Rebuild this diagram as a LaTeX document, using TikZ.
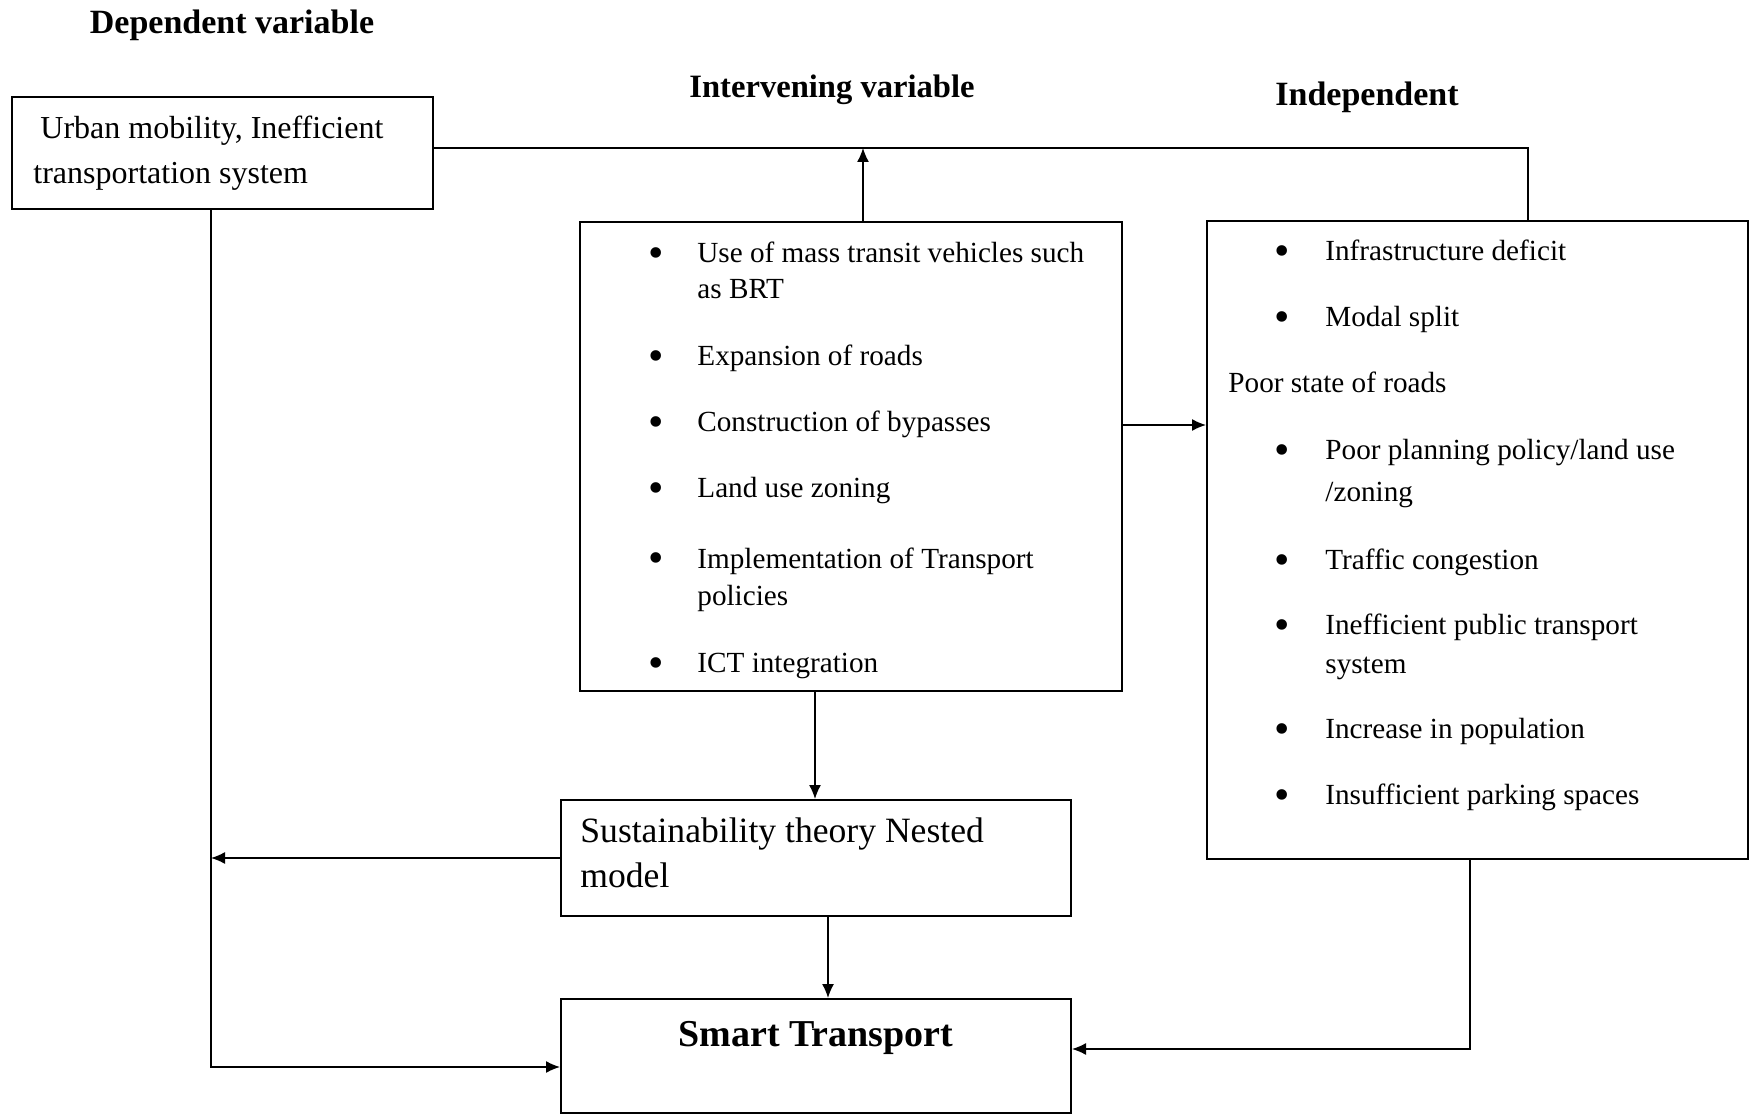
\documentclass[tikz,border=0pt]{standalone}
\usepackage{fontspec}
\setmainfont{Liberation Serif}
\usetikzlibrary{arrows.meta,fit}
\begin{document}
\begin{tikzpicture}[x=0.5pt,y=-0.5pt,
  box/.style={draw, line width=1pt, inner sep=0pt},
  conn/.style={line width=0.7pt},
  arr/.style={conn, -{Latex[length=7pt,width=6pt]}},
  txt/.style={inner sep=0pt, anchor=mid west, font=\fontsize{14.6}{17}\selectfont},
  bul/.style={inner sep=0pt, anchor=center, font=\fontsize{22}{24}\selectfont},
  ttl/.style={inner sep=0pt, anchor=mid, font=\fontsize{17}{20}\selectfont\bfseries},
  ltxt/.style={inner sep=0pt, anchor=mid west, font=\fontsize{16}{19}\selectfont},
  stxt/.style={inner sep=0pt, anchor=mid west, font=\fontsize{17.8}{21}\selectfont},
]
\useasboundingbox (0,0) rectangle (1754,1117);

% titles
\node[ttl] (t1) at (232,29) {Dependent variable};
\node[ttl, font=\fontsize{16.3}{20}\selectfont\bfseries] (t2) at (832,93) {Intervening variable};
\node[ttl] (t3) at (1367,101) {Independent};

% boxes
\node[box, fit={(12,97) (433,209)}] (b1) {};
\node[box, fit={(580,222) (1122,691)}] (b2) {};
\node[box, fit={(1207,221) (1748,859)}] (b3) {};
\node[box, fit={(561,800) (1071,916)}] (b4) {};
\node[box, fit={(561,999) (1071,1113)}] (b5) {};

% box 1 text
\node[ltxt] (u1) at (40,134) {Urban mobility, Inefficient};
\node[ltxt] (u2) at (33,179) {transportation system};

% box 2 text
\node[bul] (p1) at (656,258) {\textbullet};
\node[txt] (q1) at (697,258) {Use of mass transit vehicles such};
\node[txt] (q1b) at (697,294) {as BRT};
\node[bul] (p2) at (656,361) {\textbullet};
\node[txt] (q2) at (697,361) {Expansion of roads};
\node[bul] (p3) at (656,427) {\textbullet};
\node[txt] (q3) at (697,427) {Construction of bypasses};
\node[bul] (p4) at (656,493) {\textbullet};
\node[txt] (q4) at (697,493) {Land use zoning};
\node[bul] (p5) at (656,563) {\textbullet};
\node[txt] (q5) at (697,564) {Implementation of Transport};
\node[txt] (q5b) at (697,601) {policies};
\node[bul] (p6) at (656,668) {\textbullet};
\node[txt] (q6) at (697,668) {ICT integration};

% box 3 text
\node[bul] (r1) at (1282,256) {\textbullet};
\node[txt] (s1) at (1325,256) {Infrastructure deficit};
\node[bul] (r2) at (1282,322) {\textbullet};
\node[txt] (s2) at (1325,322) {Modal split};
\node[txt] (s3) at (1228,388) {Poor state of roads};
\node[bul] (r4) at (1282,455) {\textbullet};
\node[txt] (s4) at (1325,455) {Poor planning policy/land use};
\node[txt] (s4b) at (1325,497) {/zoning};
\node[bul] (r5) at (1282,565) {\textbullet};
\node[txt] (s5) at (1325,565) {Traffic congestion};
\node[bul] (r6) at (1282,630) {\textbullet};
\node[txt] (s6) at (1325,630) {Inefficient public transport};
\node[txt] (s6b) at (1325,669) {system};
\node[bul] (r7) at (1282,734) {\textbullet};
\node[txt] (s7) at (1325,734) {Increase in population};
\node[bul] (r8) at (1282,800) {\textbullet};
\node[txt] (s8) at (1325,800) {Insufficient parking spaces};

% box 4 and 5 text
\node[stxt] (w1) at (580,838) {Sustainability theory Nested};
\node[stxt] (w2) at (580,883) {model};
\node[ttl, font=\fontsize{19}{22}\selectfont\bfseries] (st) at (816,1042) {Smart Transport};

% connectors
\coordinate (jt) at (863,148);
\coordinate (jr) at (1528,148);
\draw[conn] (b1.east |- jt) -- (jr) -- (b3.north -| jr);
\draw[arr] (b2.north -| jt) -- (jt);
\coordinate (h1) at (1160,425);
\draw[arr] (b2.east |- h1) -- (b3.west |- h1);
\coordinate (v1) at (815,750);
\draw[arr] (b2.south -| v1) -- (b4.north -| v1);
\coordinate (lx) at (211,858);
\draw[arr] (b4.west |- lx) -- (lx);
\coordinate (lb) at (211,1067);
\draw[arr] (b1.south -| lb) -- (lb) -- (b5.west |- lb);
\coordinate (v2) at (828,960);
\draw[arr] (b4.south -| v2) -- (b5.north -| v2);
\coordinate (rb) at (1470,1049);
\draw[arr] (b3.south -| rb) -- (rb) -- (b5.east |- rb);
\end{tikzpicture}
\end{document}
